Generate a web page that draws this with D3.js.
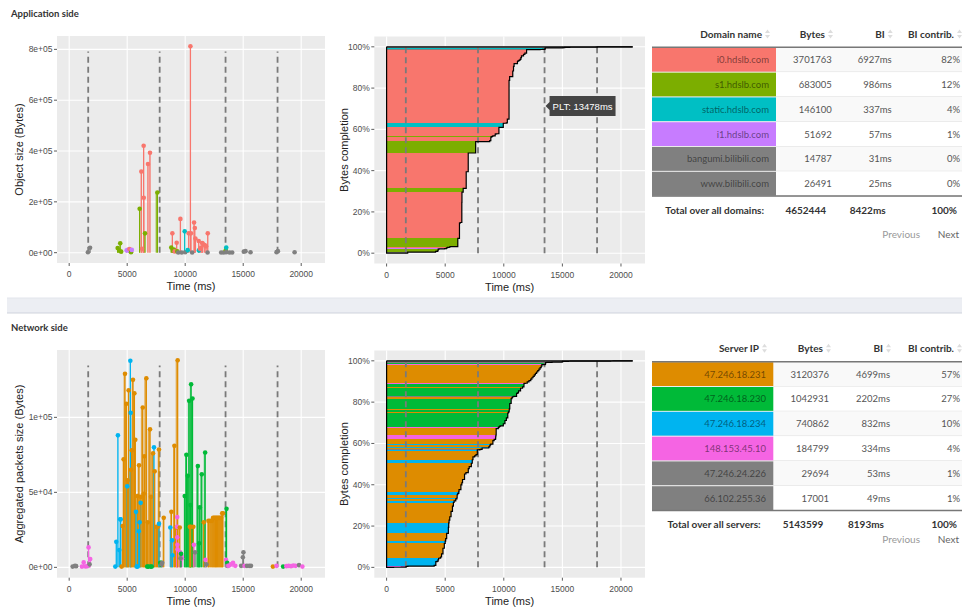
<!DOCTYPE html>
<html>
<head>
<meta charset="utf-8">
<script src="https://cdn.jsdelivr.net/npm/d3@7"></script>
<style>
  body { margin: 0; background: #fff; overflow: hidden; }
  svg { display: block; }
  .tbl { font-family: "Liberation Sans Narrow", "Lato", sans-serif; }
  .plot { font-family: "Liberation Sans", Arial, sans-serif; }
</style>
</head>
<body>
<div id="container"></div>
<script>
/***** table data *****/
const appDomains = ["i0.hdslb.com", "s1.hdslb.com", "static.hdslb.com", "i1.hdslb.com", "bangumi.bilibili.com", "www.bilibili.com"];
const appBytes = [3701763, 683005, 146100, 51692, 14787, 26491];
const appBI = [6927, 986, 337, 57, 31, 25];
const appContrib = [82, 12, 4, 1, 0, 0];
const appTotals = [4652444, 8422, 100];
const appColors = ["#F8766D", "#7CAE00", "#00BFC4", "#C77CFF", "#808080", "#808080"];

const netServers = ["47.246.18.231", "47.246.18.230", "47.246.18.234", "148.153.45.10", "47.246.24.226", "66.102.255.36"];
const netBytes = [3120376, 1042931, 740862, 184799, 29694, 17001];
const netBI = [4699, 2202, 832, 334, 53, 49];
const netContrib = [57, 27, 10, 4, 1, 1];
const netTotals = [5143599, 8193, 100];
const netColors = ["#DE8C00", "#00BA38", "#00B4F0", "#F564E3", "#808080", "#808080"];

/***** timeline data *****/
// vertical markers (ms) and page load time
const markerTimes = [1640, 7800, 13478, 17960];
const pltTime = 13478;
const traceEnd = 21000;
const xTicks = [0, 5000, 10000, 15000, 20000];

// application objects: [start ms, end ms, bytes, group] (group 4 = other/gray)
const appObjects = [
  [1600, 1615, 1500, 4], [1780, 1800, 19600, 4],
  [4150, 4180, 18000, 1], [4300, 4330, 8000, 1], [4350, 4400, 37000, 1], [4450, 4480, 4000, 1],
  [4900, 4950, 9000, 3], [5050, 5100, 12000, 3], [5150, 5200, 14000, 0], [5300, 5330, 1500, 1], [5350, 5400, 11000, 3],
  [6050, 6075, 172600, 1], [6180, 6218, 319000, 0], [6250, 6280, 15000, 0], [6380, 6419, 421000, 0],
  [6390, 6430, 216000, 0], [6510, 6535, 76000, 1], [6760, 6793, 349000, 0], [6930, 6966, 393000, 0],
  [7450, 7600, 237000, 1],
  [8760, 8800, 20000, 1], [8860, 8894, 76000, 0], [8920, 8950, 8000, 1], [9000, 9030, 12000, 1],
  [9060, 9090, 5000, 0], [9240, 9266, 39000, 0], [9300, 9320, 5000, 1], [9380, 9400, 1000, 4],
  [9560, 9585, 133000, 0], [9650, 9700, 1000, 4], [9930, 9957, 84000, 2], [9980, 10000, 1500, 4],
  [10190, 10216, 10000, 2], [10270, 10302, 76000, 0], [10420, 10449, 812000, 0], [10470, 10500, 76000, 0],
  [10560, 10600, 1000, 4], [10740, 10765, 119000, 0], [10800, 10830, 97000, 0], [10860, 10880, 56000, 0],
  [11140, 11166, 46000, 0], [11160, 11180, 9000, 2], [11250, 11280, 15000, 0], [11350, 11380, 20000, 0],
  [11430, 11458, 38000, 0], [11490, 11512, 36000, 0], [11650, 11685, 30000, 0], [11770, 11800, 25000, 0],
  [11900, 11930, 1000, 4], [11920, 11945, 76000, 0],
  [13080, 13100, 1000, 4], [13300, 13320, 1000, 4], [13480, 13500, 10000, 1], [13500, 13530, 2000, 4],
  [13510, 13540, 20000, 2], [13800, 13820, 1000, 4], [14030, 14050, 1000, 4], [15030, 15050, 4000, 4],
  [15180, 15200, 6000, 4], [15600, 15630, 1500, 4], [17850, 17875, 2000, 4], [17970, 17990, 6000, 4],
  [19400, 19430, 1500, 4]
];

// network aggregated packets: [start ms, end ms, bytes, group]
const netObjects = [
  [250, 300, 500, 4], [450, 500, 1000, 4], [550, 600, 800, 4],
  [1050, 1100, 500, 3], [1200, 1250, 3300, 3], [1350, 1400, 600, 3], [1500, 1550, 800, 3],
  [1620, 1670, 13300, 3], [1720, 1760, 2000, 4], [1770, 1815, 5500, 3],
  [3940, 3975, 500, 2], [4040, 4060, 17000, 2], [4180, 4200, 88000, 2], [4290, 4320, 11500, 2],
  [4380, 4400, 32000, 2], [4420, 4440, 32000, 2],
  [4480, 4520, 500, 0], [4520, 4610, 27500, 0], [4610, 4690, 72000, 0], [4690, 4810, 129000, 0],
  [4810, 4925, 109000, 0], [4950, 5000, 54000, 2], [4925, 5040, 58000, 0], [5040, 5125, 118000, 0],
  [5240, 5270, 137700, 2], [5280, 5300, 103000, 2], [5125, 5330, 65000, 0], [5330, 5390, 78000, 0],
  [5390, 5500, 125000, 0], [5500, 5620, 116000, 0], [5620, 5700, 85000, 0], [5740, 5760, 37000, 2],
  [5790, 5820, 500, 2], [5880, 5900, 500, 2], [5700, 5900, 47500, 0], [5900, 6020, 68000, 0],
  [5980, 6000, 24000, 2], [6050, 6070, 30000, 2], [6140, 6160, 43000, 2], [6020, 6180, 47000, 0],
  [6180, 6340, 106600, 0], [6340, 6420, 49000, 0], [6420, 6480, 74000, 0], [6480, 6650, 126000, 0],
  [6650, 6770, 30000, 0], [6770, 6970, 92000, 0], [6970, 7050, 47000, 0], [7050, 7230, 76000, 0],
  [7290, 7310, 80000, 2], [7230, 7370, 64000, 0], [7370, 7510, 27000, 0], [7510, 7630, 27000, 0],
  [7630, 7740, 78600, 0], [7720, 7740, 29000, 2], [7800, 7850, 3000, 1], [7900, 7930, 3000, 1],
  [8050, 8150, 33000, 0], [6700, 6720, 500, 1], [6800, 6820, 500, 1], [7000, 7020, 500, 1],
  [7100, 7120, 500, 1], [7950, 7970, 2000, 4], [8000, 8020, 3000, 4],
  [8700, 8720, 26600, 2], [8720, 8810, 37000, 0], [8850, 8870, 18000, 2], [8880, 8900, 8000, 2],
  [8950, 9070, 81000, 0], [9070, 9180, 26400, 0], [9290, 9300, 27000, 3], [9300, 9310, 33500, 3],
  [9310, 9320, 20000, 3], [9320, 9330, 15000, 3], [9330, 9340, 12000, 3], [9180, 9350, 138000, 0],
  [9400, 9530, 26600, 0], [9550, 9570, 10000, 3], [9650, 9670, 8000, 3], [9700, 9720, 6000, 3],
  [9550, 9600, 6000, 4], [9620, 9640, 9000, 1],
  [9880, 9960, 47500, 1], [9980, 10100, 75000, 1], [10120, 10220, 61000, 1], [10230, 10340, 111000, 1],
  [10350, 10460, 41500, 1], [10400, 10510, 122000, 1], [10520, 10630, 112600, 1], [10300, 10400, 27000, 0],
  [10420, 10470, 27000, 0], [10650, 10700, 27000, 0], [10700, 10750, 15000, 3], [10800, 10850, 10000, 4],
  [10950, 11090, 67500, 1], [11100, 11200, 16000, 1], [11150, 11260, 40000, 1], [11300, 11430, 62000, 1],
  [11500, 11600, 30000, 0], [11600, 11720, 76600, 1], [11700, 11750, 5000, 3], [11800, 11830, 2000, 4],
  [11900, 12000, 31000, 0], [12000, 12150, 31000, 0], [12150, 12300, 31000, 0], [12300, 12400, 33000, 0],
  [12400, 12500, 33000, 0], [12500, 12600, 33000, 0], [12600, 12700, 33000, 0], [12700, 12800, 33000, 0],
  [12800, 12900, 33000, 0], [12900, 13000, 33000, 0], [13000, 13100, 33000, 0], [13100, 13190, 36000, 0],
  [13190, 13250, 36000, 0],
  [13450, 13560, 39000, 1], [13500, 13520, 5000, 3], [13600, 13620, 3000, 1], [13650, 13670, 1000, 4],
  [13700, 13720, 1000, 3], [13900, 13920, 2000, 3], [14100, 14120, 3000, 3], [14300, 14320, 1000, 3],
  [14800, 14820, 1000, 4], [14950, 14970, 6700, 4], [15000, 15020, 10000, 4], [15100, 15120, 1000, 3],
  [15300, 15320, 1000, 4], [15500, 15520, 1000, 4], [15650, 15670, 1000, 4],
  [17540, 17560, 500, 0], [17850, 17870, 1000, 3], [18420, 18440, 500, 1], [18700, 18720, 800, 3],
  [18900, 18920, 1000, 3], [19100, 19120, 800, 3], [19300, 19320, 1200, 3], [19500, 19520, 1000, 3],
  [19800, 19810, 1500, 4], [20080, 20100, 500, 3]
];

/***** page *****/
const W = 962, H = 609;
const svg = d3.select("#container").append("svg").attr("width", W).attr("height", H);

svg.append("text").attr("x", 11).attr("y", 17)
  .style("font-family", "Lato, sans-serif").style("font-size", "9.5px").style("font-weight", "bold")
  .attr("fill", "#333").text("Application side");
svg.append("text").attr("x", 11).attr("y", 331)
  .style("font-family", "Lato, sans-serif").style("font-size", "9.5px").style("font-weight", "bold")
  .attr("fill", "#333").text("Network side");

// separator band between the two sections
svg.append("rect").attr("x", 7).attr("y", 298).attr("width", W - 7).attr("height", 15).attr("fill", "#eceef3");
svg.append("line").attr("x1", 7).attr("x2", W).attr("y1", 298).attr("y2", 298).attr("stroke", "#e2e5ec");
svg.append("line").attr("x1", 7).attr("x2", W).attr("y1", 313).attr("y2", 313).attr("stroke", "#cfd3dc");

function sciFmt(v) {
  let parts = v.toExponential(0).split("e");
  let e = +parts[1];
  return parts[0] + "e" + (e < 0 ? "-" : "+") + String(Math.abs(e)).padStart(2, "0");
}

// ggplot-like panel with grid, ticks, labels
function panel(p, x, y, yTicks, yFmt, yTitle) {
  let g = svg.append("g").attr("class", "plot");
  g.append("rect").attr("x", p.x0).attr("y", p.y0).attr("width", p.x1 - p.x0).attr("height", p.y1 - p.y0)
    .attr("fill", "#EBEBEB");
  g.selectAll(".gx").data(xTicks).join("line")
    .attr("x1", d => x(d)).attr("x2", d => x(d)).attr("y1", p.y0).attr("y2", p.y1)
    .attr("stroke", "#fff").attr("stroke-width", 1.1);
  g.selectAll(".gy").data(yTicks).join("line")
    .attr("x1", p.x0).attr("x2", p.x1).attr("y1", d => y(d)).attr("y2", d => y(d))
    .attr("stroke", "#fff").attr("stroke-width", 1.1);
  // ticks
  g.selectAll(".tx").data(xTicks).join("line")
    .attr("x1", d => x(d)).attr("x2", d => x(d)).attr("y1", p.y1).attr("y2", p.y1 + 3)
    .attr("stroke", "#333").attr("stroke-width", 0.8);
  g.selectAll(".ty").data(yTicks).join("line")
    .attr("x1", p.x0 - 3).attr("x2", p.x0).attr("y1", d => y(d)).attr("y2", d => y(d))
    .attr("stroke", "#333").attr("stroke-width", 0.8);
  g.selectAll(".lx").data(xTicks).join("text")
    .attr("x", d => x(d)).attr("y", p.y1 + 14).attr("text-anchor", "middle")
    .attr("fill", "#4D4D4D").style("font-size", "8.5px").text(d => d);
  g.selectAll(".ly").data(yTicks).join("text")
    .attr("x", p.x0 - 4.5).attr("y", d => y(d) + 3).attr("text-anchor", "end")
    .attr("fill", "#4D4D4D").style("font-size", "8.5px").text(yFmt);
  g.append("text").attr("x", (p.x0 + p.x1) / 2).attr("y", p.y1 + 27).attr("text-anchor", "middle")
    .attr("fill", "#222").style("font-size", "11px").text("Time (ms)");
  g.append("text").attr("transform", `translate(${p.ytx},${(p.y0 + p.y1) / 2}) rotate(-90)`)
    .attr("text-anchor", "middle").attr("fill", "#222").style("font-size", "11px").text(yTitle);
  return g;
}

function markers(g, x, yBottom, yTop) {
  g.selectAll(".mk").data(markerTimes).join("line")
    .attr("x1", d => x(d)).attr("x2", d => x(d)).attr("y1", yBottom).attr("y2", yTop)
    .attr("stroke", "#7a7a7a").attr("stroke-width", 1.8).attr("stroke-dasharray", "6,4");
}

function scatter(p, objs, colors, yTicks, yTitle) {
  let x = d3.scaleLinear().domain([-0.05 * traceEnd, 1.05 * traceEnd]).range([p.x0, p.x1]);
  let ymax = d3.max(objs, d => d[2]);
  let y = d3.scaleLinear().domain([-0.05 * ymax, 1.05 * ymax]).range([p.y1, p.y0]);
  let g = panel(p, x, y, yTicks, sciFmt, yTitle);
  markers(g, x, y(0), y(ymax * 0.975));
  g.selectAll(".bar").data(objs).join("rect")
    .attr("x", d => x(d[0])).attr("width", d => Math.max(0.1, x(d[1]) - x(d[0])))
    .attr("y", d => y(d[2])).attr("height", d => y(0) - y(d[2]))
    .attr("fill", d => colors[d[3]]).attr("fill-opacity", 0.7);
  g.selectAll(".stem").data(objs).join("line")
    .attr("x1", d => x(d[1])).attr("x2", d => x(d[1])).attr("y1", y(0)).attr("y2", d => y(d[2]))
    .attr("stroke", d => colors[d[3]]).attr("stroke-width", 1.3);
  g.selectAll(".pt").data(objs).join("circle")
    .attr("cx", d => x(d[1])).attr("cy", d => y(d[2])).attr("r", 2.3)
    .attr("fill", d => colors[d[3]]);
}

function completion(p, objs, colors) {
  let x = d3.scaleLinear().domain([-0.05 * traceEnd, 1.05 * traceEnd]).range([p.x0, p.x1]);
  let y = d3.scaleLinear().domain([-0.05, 1.05]).range([p.y1, p.y0]);
  let g = panel(p, x, y, [0, 0.2, 0.4, 0.6, 0.8, 1], d3.format(".0%"), "Bytes completion");
  let sorted = objs.slice().sort((a, b) => a[1] - b[1]);
  let total = d3.sum(sorted, d => d[2]);
  let cum = 0;
  let bands = sorted.map(d => {
    let b = { end: d[1], lo: cum / total, hi: (cum + d[2]) / total, grp: d[3] };
    cum += d[2];
    return b;
  });
  g.selectAll(".band").data(bands).join("rect")
    .attr("x", x(0)).attr("width", d => x(d.end) - x(0))
    .attr("y", d => y(d.hi)).attr("height", d => y(d.lo) - y(d.hi))
    .attr("fill", d => colors[d.grp]).attr("shape-rendering", "crispEdges");
  markers(g, x, y(0), y(1));
  let pts = [[0, 1], [0, 0]];
  bands.forEach(b => { pts.push([b.end, b.lo]); pts.push([b.end, b.hi]); });
  pts.push([traceEnd, 1]);
  let line = d3.line().x(d => x(d[0])).y(d => y(d[1]));
  g.append("path").attr("d", line(pts)).attr("fill", "none").attr("stroke", "#000").attr("stroke-width", 1.2);
  g.append("path").attr("d", line([[0, 1], [traceEnd, 1]])).attr("fill", "none").attr("stroke", "#000").attr("stroke-width", 1.2);
  return { g, x, y };
}

/***** charts *****/
scatter({ x0: 57, x1: 325, y0: 36, y1: 263, ytx: 23 }, appObjects, appColors,
  [0, 2e5, 4e5, 6e5, 8e5], "Object size (Bytes)");
const appComp = completion({ x0: 374.3, x1: 645, y0: 36.5, y1: 263.5, ytx: 348 }, appObjects, appColors);
scatter({ x0: 57, x1: 325, y0: 350, y1: 577.7, ytx: 23 }, netObjects, netColors,
  [0, 5e4, 1e5], "Aggregated packets size (Bytes)");
completion({ x0: 374.3, x1: 645, y0: 350.5, y1: 577.7, ytx: 348 }, netObjects, netColors);

// PLT hover label
{
  let px = appComp.x(pltTime) + 1, py = appComp.y(0.713);
  let lg = svg.append("g").attr("class", "plot");
  lg.append("path").attr("d", `M${px},${py} l4,-4 v-6 h66 v20 h-66 v-6 z`).attr("fill", "#444");
  lg.append("text").attr("x", px + 7).attr("y", py + 3.5).attr("fill", "#fff").style("font-size", "9.5px")
    .text("PLT: " + pltTime + "ms");
}

/***** tables *****/
function sortIcon(g, xr, yc) {
  g.append("path").attr("d", `M${xr},${yc - 1} l2.5,-3.5 l2.5,3.5 z`).attr("fill", "#ddd");
  g.append("path").attr("d", `M${xr},${yc + 1} l2.5,3.5 l2.5,-3.5 z`).attr("fill", "#ddd");
}

function table(t, names, bytes, bi, contrib, totals, colors, headName, totalLabel) {
  let g = svg.append("g").attr("class", "tbl");
  let heads = [headName, "Bytes", "BI", "BI contrib."];
  g.selectAll(".hd").data(heads).join("text")
    .attr("x", (d, i) => t.head[i]).attr("y", t.headY + 3.5).attr("text-anchor", "end")
    .attr("fill", "#333").style("font-size", "10px").style("font-weight", "bold")
    .style("font-family", "Lato, sans-serif").text(d => d);
  heads.forEach((d, i) => sortIcon(g, t.head[i] + 3, t.headY));
  let rows = names.map((n, i) => ({ n, i, cells: [bytes[i], bi[i] + "ms", contrib[i] + "%"] }));
  let rg = g.selectAll(".row").data(rows).join("g")
    .attr("transform", d => `translate(0,${t.lineY + d.i * t.rowH})`);
  rg.append("rect").attr("x", 652).attr("y", 0).attr("width", W - 652).attr("height", t.rowH)
    .attr("fill", d => d.i % 2 === 0 ? "#f9f9f9" : "#fff");
  rg.append("rect").attr("x", 652).attr("y", 0.5).attr("width", t.colorX1 - 652).attr("height", t.rowH - 0.5)
    .attr("fill", d => colors[d.i]);
  rg.append("line").attr("x1", 652).attr("x2", W).attr("y1", t.rowH).attr("y2", t.rowH)
    .attr("stroke", "#ddd").attr("stroke-width", 1);
  rg.append("text").attr("x", t.body[0]).attr("y", t.rowH / 2 + 3.5).attr("text-anchor", "end")
    .attr("fill", "#000").attr("fill-opacity", 0.5).style("font-size", "9.5px").text(d => d.n);
  [0, 1, 2].forEach(c => {
    rg.append("text").attr("x", t.body[c + 1]).attr("y", t.rowH / 2 + 3.5).attr("text-anchor", "end")
      .attr("fill", "#555").style("font-size", "9.5px").text(d => d.cells[c]);
  });
  let bottomY = t.lineY + names.length * t.rowH;
  g.append("line").attr("x1", 652).attr("x2", W).attr("y1", t.lineY).attr("y2", t.lineY)
    .attr("stroke", "#777").attr("stroke-width", 1.5);
  g.append("line").attr("x1", 652).attr("x2", W).attr("y1", bottomY).attr("y2", bottomY)
    .attr("stroke", "#777").attr("stroke-width", 1.5);
  let foot = [totalLabel, totals[0], totals[1] + "ms", totals[2] + "%"];
  g.selectAll(".ft").data(foot).join("text")
    .attr("x", (d, i) => t.foot[i]).attr("y", t.footY + 3.5).attr("text-anchor", "end")
    .attr("fill", "#333").style("font-size", "10px").style("font-weight", "bold")
    .style("font-family", "Lato, sans-serif").text(d => d);
  g.append("text").attr("x", 920).attr("y", t.navY + 3.5).attr("fill", "#999").attr("text-anchor", "end")
    .style("font-size", "10px").style("font-family", "Lato, sans-serif").text("Previous");
  g.append("text").attr("x", 959).attr("y", t.navY + 3.5).attr("fill", "#666").attr("text-anchor", "end")
    .style("font-size", "10px").style("font-family", "Lato, sans-serif").text("Next");
}

table({ headY: 34, lineY: 47.3, rowH: 24.8, colorX1: 776, head: [762, 825, 884.7, 954],
        body: [769, 831.7, 891.7, 960], foot: [764, 826, 885.7, 957], footY: 210, navY: 234 },
  appDomains, appBytes, appBI, appContrib, appTotals, appColors, "Domain name", "Total over all domains:");
table({ headY: 348.3, lineY: 361.7, rowH: 24.8, colorX1: 773.3, head: [759, 823, 883, 954],
        body: [766, 829, 890, 960], foot: [760.7, 823.3, 884, 957], footY: 524.3, navY: 539.3 },
  netServers, netBytes, netBI, netContrib, netTotals, netColors, "Server IP", "Total over all servers:");
</script>
</body>
</html>
